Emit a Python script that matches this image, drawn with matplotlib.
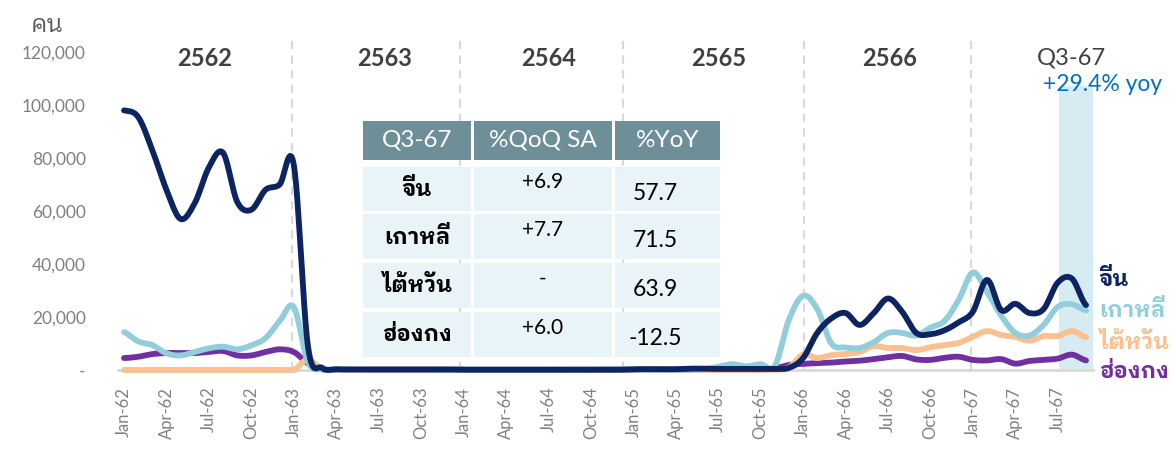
import matplotlib
matplotlib.use("Agg")
import matplotlib.pyplot as plt
from matplotlib.patches import Rectangle
import numpy as np

LATIN = ["Lato", "IBM Plex Sans Thai Looped", "DejaVu Sans"]
THAI = ["IBM Plex Sans Thai Looped", "Noto Sans Thai Looped", "DejaVu Sans"]

# monthly arrivals, Jan-62 .. Sep-67
months = ["Jan", "Feb", "Mar", "Apr", "May", "Jun", "Jul", "Aug", "Sep", "Oct", "Nov", "Dec"]
labels = [m + "-" + str(y) for y in range(62, 68) for m in months][:69]

china = [98000, 95500, 83000, 68000, 57000, 63000, 76500, 82000, 63500, 60500, 68000, 70000,
         77500, 9000, 800, 300, 200, 200, 200, 200, 200, 200, 200, 200,
         100, 100, 100, 100, 100, 100, 100, 100, 100, 100, 100, 100,
         300, 300, 300, 300, 500, 500, 400, 400, 400, 400, 400, 800,
         4500, 14000, 19500, 21500, 17000, 21500, 27000, 22000, 14000, 13500, 15000, 18000,
         22000, 34000, 22600, 25000, 21500, 23000, 33000, 34500, 24500]
korea = [14300, 10800, 9400, 6300, 5500, 6800, 8200, 8800, 7800, 9300, 12000, 18500,
         23800, 3000, 200, 100, 100, 100, 100, 100, 100, 100, 100, 100,
         100, 100, 100, 100, 100, 100, 100, 100, 100, 100, 400, 200,
         100, 100, 100, 100, 100, 300, 1200, 2200, 1400, 2200, 1500, 19000,
         28000, 23000, 10000, 8500, 8300, 10500, 14000, 14000, 13000, 16000, 18500, 26500,
         36800, 29500, 20500, 14000, 13000, 17000, 23800, 24800, 22500]
taiwan = [0, 0, 0, 0, 0, 0, 0, 0, 0, 0, 0, 0,
          0, 4000, 100, 0, 0, 0, 0, 0, 0, 0, 0, 0,
          0, 0, 0, 0, 0, 0, 0, 0, 0, 0, 0, 0,
          0, 0, 0, 0, 0, 0, 0, 0, 0, 0, 0, 1000,
          5800, 4500, 5600, 6000, 6800, 9000, 8300, 8300, 7500, 8600, 9400, 10200,
          12500, 14700, 13200, 12500, 11000, 12800, 12800, 14700, 12400]
hongkong = [4500, 5000, 6000, 6400, 6400, 6400, 6800, 7200, 5500, 5500, 6800, 7800,
            6800, 2500, 300, 100, 100, 100, 100, 100, 100, 100, 100, 100,
            100, 100, 100, 100, 100, 100, 100, 100, 100, 100, 100, 100,
            100, 100, 100, 100, 100, 300, 300, 300, 300, 200, 600, 1900,
            2300, 2600, 2800, 3200, 3500, 4100, 4800, 5300, 4000, 3800, 4600, 5000,
            3800, 3600, 4100, 2400, 3400, 3800, 4300, 5800, 3600]

series_names = ["จีน", "เกาหลี", "ไต้หวัน", "ฮ่องกง"]
series_colors = ["#0C2462", "#92CDDC", "#FAC090", "#7030A0"]

year_labels = ["2562", "2563", "2564", "2565", "2566", "Q3-67"]
year_pos = [5.7, 18.4, 30.0, 42.0, 54.1, 67.0]
year_lines = [11.9, 23.75, 35.3, 48.05, 59.85]

table_head = ["Q3-67", "%QoQ SA", "%YoY"]
table_qoq = ["+6.9", "+7.7", "-", "+6.0"]
table_yoy = ["57.7", "71.5", "63.9", "-12.5"]


def smooth(y, n=12):
    # Catmull-Rom style smoothing like Excel "smoothed line"
    y = np.asarray(y, dtype=float)
    p = np.concatenate([[y[0]], y, [y[-1]]])
    t = np.linspace(0, 1, n, endpoint=False)
    xs, ys = [], []
    for i in range(len(y) - 1):
        p0, p1, p2, p3 = p[i], p[i + 1], p[i + 2], p[i + 3]
        seg = 0.5 * (2 * p1 + (p2 - p0) * t + (2 * p0 - 5 * p1 + 4 * p2 - p3) * t ** 2
                     + (3 * p1 - p0 - 3 * p2 + p3) * t ** 3)
        xs.append(i + t)
        ys.append(seg)
    xs.append([len(y) - 1])
    ys.append([y[-1]])
    return np.concatenate(xs), np.maximum(np.concatenate(ys), 0)


fig = plt.figure(figsize=(11.73, 4.5), dpi=100)
ax = fig.add_axes([0.1003, 0.1778, 0.8316, 0.74])
ax.set_xlim(-0.45, 68.5)
ax.set_ylim(0, 125700)

# highlighted quarter
ax.axvspan(66.1, 68.55, ymin=-0.008, ymax=107200 / 125700, color="#D6EBF2", zorder=0, lw=0)

for xv in year_lines:
    ax.axvline(xv, color="#D9D9D9", ls=(0, (4, 3)), lw=1.5, zorder=1)

data = [hongkong, taiwan, korea, china]
cols = series_colors[::-1]
for vals, c in zip(data, cols):
    xs, ys = smooth(vals)
    ax.plot(xs, ys, color=c, lw=4.2, solid_capstyle="round", zorder=3, clip_on=False)

for s in ["top", "right", "left"]:
    ax.spines[s].set_visible(False)
ax.spines["bottom"].set_color("#D9D9D9")
ax.spines["bottom"].set_linewidth(2)
ax.spines["bottom"].set_zorder(2)

yt = np.arange(0, 120001, 20000)
ax.set_yticks(yt)
ax.set_yticklabels(["-" if v == 0 else "{:,}".format(v) for v in yt],
                   family=LATIN, fontsize=12.5, color="#808080")
ax.tick_params(axis="y", length=0, pad=23)
ax.set_xticks(range(0, 69, 3))
ax.set_xticklabels(labels[::3], rotation=90, family=LATIN, fontsize=12, color="#808080")
ax.tick_params(axis="x", length=0, pad=12)

for lab, xp in zip(year_labels, year_pos):
    ax.text(xp, 117700, lab, ha="center", va="center", fontsize=17,
            fontweight="normal" if lab.startswith("Q") else "bold", color="#404040", family=LATIN)
ax.text(69.2, 107900, "+29.4% yoy", ha="center", va="center", fontsize=16.5,
        color="#0070C0", family=LATIN, clip_on=False)

label_y = [34300, 22600, 10500, -750]
for name, c, yv in zip(series_names, series_colors, label_y):
    ax.text(68.9, yv, name, ha="left", va="center", fontsize=16, fontweight="bold",
            color=c, family=THAI, clip_on=False)

fig.text(47 / 1173, 1 - 25 / 450, "คน", ha="center", va="center", fontsize=17,
         color="#595959", family=THAI)

# summary table overlay in pixel space
tab = fig.add_axes([0, 0, 1, 1], zorder=5)
tab.set_xlim(0, 1173)
tab.set_ylim(450, 0)
tab.axis("off")
col_x = [(363, 471), (474, 612), (615, 720)]
head_y = (121, 160)
row_y = [(167, 211), (214, 259), (263, 308), (312, 357)]
for (x0, x1), h in zip(col_x, table_head):
    tab.add_patch(Rectangle((x0, head_y[0]), x1 - x0, head_y[1] - head_y[0], color="#6E8F98", lw=0))
    tab.text((x0 + x1) / 2, sum(head_y) / 2, h, ha="center", va="center", color="white",
             fontsize=17.5, family=LATIN)
for i, (y0, y1) in enumerate(row_y):
    for x0, x1 in col_x:
        tab.add_patch(Rectangle((x0, y0), x1 - x0, y1 - y0, color="#E8F4F7", lw=0))
    yc = (y0 + y1) / 2
    tab.text(417, yc, series_names[i], ha="center", va="center", fontsize=16,
             fontweight="bold", color="black", family=THAI)
    tab.text(543, yc - 7, table_qoq[i], ha="center", va="center", fontsize=15,
             color="black", family=LATIN)
    tab.text(655, yc + 4, table_yoy[i], ha="center", va="center", fontsize=16.5,
             color="black", family=LATIN)

fig.savefig("out.png", dpi=100)
